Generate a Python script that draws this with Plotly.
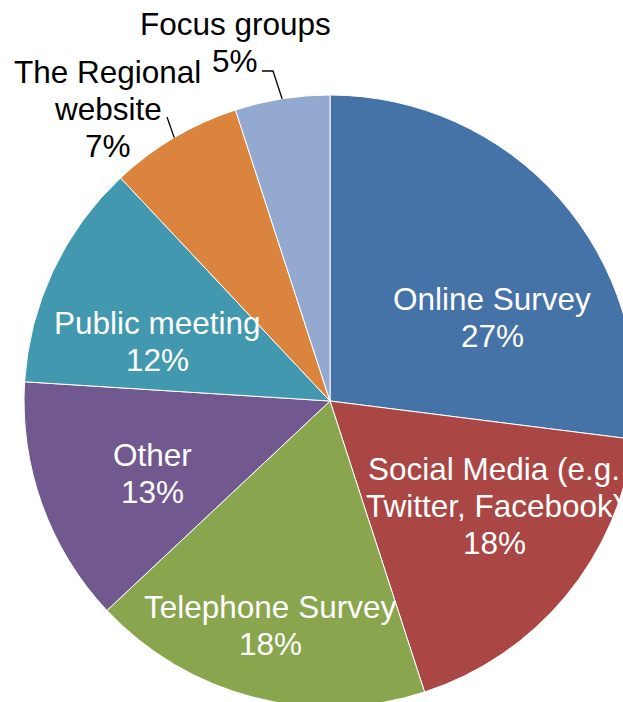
import math
import plotly.graph_objects as go

# Survey channel shares (%)
channels = ["Online Survey", "Social Media (e.g. Twitter, Facebook)", "Telephone Survey",
            "Other", "Public meeting", "The Regional website", "Focus groups"]
shares = [27, 18, 18, 13, 12, 7, 5]
slice_colors = ["#4572A7", "#AA4643", "#89A54E", "#71588F", "#4198AF", "#DB843D", "#93A9CF"]

# How each label is broken into lines
label_lines = [["Online Survey"], ["Social Media (e.g.", "Twitter, Facebook)"], ["Telephone Survey"],
               ["Other"], ["Public meeting"], ["The Regional", "website"], ["Focus groups"]]
inside = [True, True, True, True, True, False, False]

# Canvas and pie geometry (pixels)
W, H = 660, 720
CX, CY, R = 330, 401, 306
FONT = "Liberation Sans, Arial, sans-serif"
FSIZE = 31.5
LINE_GAP = 37

# Label anchor: centre x and middle of first line (pixels)
label_anchor = [(492, 299), (494, 469), (270, 607), (152, 455), (157.5, 322.5), (107.5, 72), (235, 24)]
# Near end of leader lines for the outside labels (pixels)
leader_start = {5: [(167, 117)], 6: [(262, 71), (273, 71)]}


def px(x):
    return x / W


def py(y):
    return 1 - y / H


fig = go.Figure(go.Pie(
    labels=channels,
    values=shares,
    sort=False,
    direction="clockwise",
    rotation=0,
    marker=dict(colors=slice_colors, line=dict(color="white", width=1)),
    textinfo="none",
    hoverinfo="skip",
    showlegend=False,
    domain=dict(x=[px(CX - R), px(CX + R)], y=[py(CY + R), py(CY - R)]),
))

annotations = []
for i, lines in enumerate(label_lines):
    x0, y0 = label_anchor[i]
    color = "white" if inside[i] else "black"
    for k, line in enumerate(lines + [f"{shares[i]}%"]):
        annotations.append(dict(
            x=px(x0), y=py(y0 + k * LINE_GAP), xref="paper", yref="paper",
            text=line, showarrow=False, xanchor="center", yanchor="middle",
            font=dict(family=FONT, size=FSIZE, color=color),
        ))

# Leader lines from outside labels to the middle of their slices
shapes = []
total = sum(shares)
cum = 0
for i, v in enumerate(shares):
    mid = (cum + v / 2) / total * 2 * math.pi
    cum += v
    if i in leader_start:
        end = (CX + R * math.sin(mid), CY - R * math.cos(mid))
        pts = leader_start[i] + [end]
        path = "M " + " L ".join(f"{px(a)},{py(b)}" for a, b in pts)
        shapes.append(dict(type="path", path=path, xref="paper", yref="paper",
                           line=dict(color="black", width=1.3)))

fig.update_layout(
    width=W, height=H,
    margin=dict(l=0, r=0, t=0, b=0),
    paper_bgcolor="white", plot_bgcolor="white",
    annotations=annotations, shapes=shapes,
)

fig.write_html(
    "out.html",
    config={"displayModeBar": False, "staticPlot": True},
    post_script="document.documentElement.style.overflow='hidden';"
                "document.body.style.overflow='hidden';document.body.style.margin='0';",
)
